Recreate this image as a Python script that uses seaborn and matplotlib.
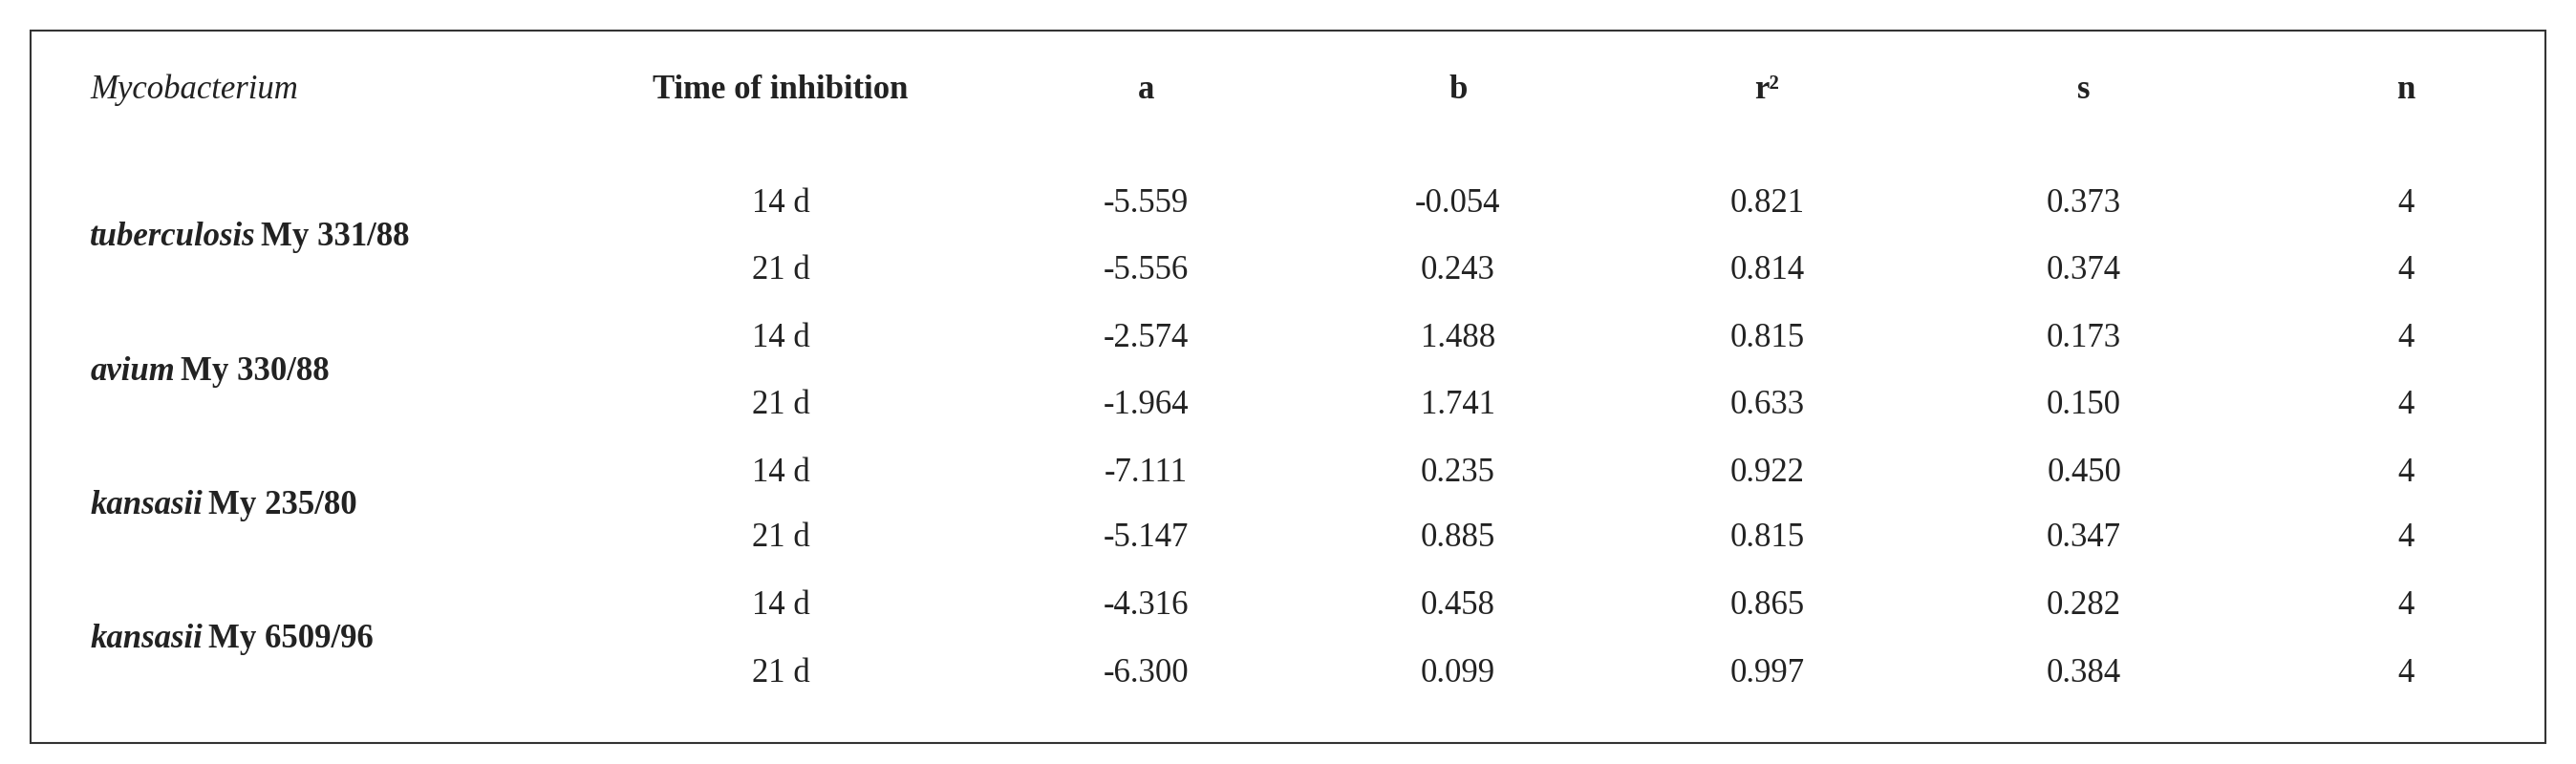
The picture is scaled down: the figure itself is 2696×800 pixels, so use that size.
import matplotlib
matplotlib.use('Agg')
import matplotlib.pyplot as plt
from matplotlib.patches import Rectangle
import seaborn as sns

# --- DATA ---
species = ["tuberculosis", "avium", "kansasii", "kansasii"]
strains = ["My 331/88", "My 330/88", "My 235/80", "My 6509/96"]
times = ["14 d", "21 d"]
a_vals = ["-5.559", "-5.556", "-2.574", "-1.964", "-7.111", "-5.147", "-4.316", "-6.300"]
b_vals = ["-0.054", "0.243", "1.488", "1.741", "0.235", "0.885", "0.458", "0.099"]
r2_vals = ["0.821", "0.814", "0.815", "0.633", "0.922", "0.815", "0.865", "0.997"]
s_vals = ["0.373", "0.374", "0.173", "0.150", "0.450", "0.347", "0.282", "0.384"]
n_vals = ["4"] * 8
headers = ["Time of inhibition", "a", "b", "r²", "s", "n"]

sns.set_theme(style="white")
plt.rcParams['font.family'] = ['Liberation Serif', 'DejaVu Serif']

fig = plt.figure(figsize=(26.96, 8), dpi=100)
ax = fig.add_axes([0, 0, 1, 1])
ax.set_xlim(0, 1)
ax.set_ylim(1, 0)
ax.axis('off')

ax.add_patch(Rectangle((0.012, 0.04), 0.976, 0.932, fill=False, edgecolor='#333333', linewidth=1.5))

txt = '#222222'
fs = 25
col_x = [0.303, 0.445, 0.566, 0.686, 0.809, 0.934]
head_y = 0.118
row_y = [0.267, 0.355, 0.443, 0.531, 0.619, 0.705, 0.793, 0.882]

ax.text(0.035, head_y, "Mycobacterium", style='italic', fontsize=fs, color=txt, va='center', ha='left')
for x, h in zip(col_x, headers):
    ax.text(x, head_y, h, fontweight='bold', fontsize=fs, color=txt, va='center', ha='center')

for i, (sp, st) in enumerate(zip(species, strains)):
    y = (row_y[2 * i] + row_y[2 * i + 1]) / 2
    t = ax.text(0.035, y, sp, style='italic', fontweight='bold', fontsize=fs, color=txt, va='center', ha='left')
    fig.canvas.draw()
    bb = t.get_window_extent().transformed(ax.transData.inverted())
    ax.text(bb.x1 + 0.002, y, st, fontweight='bold', fontsize=fs, color=txt, va='center', ha='left')

cols = [times * 4, a_vals, b_vals, r2_vals, s_vals, n_vals]
for x, vals in zip(col_x, cols):
    for y, v in zip(row_y, vals):
        ax.text(x, y, v, fontsize=fs, color=txt, va='center', ha='center')

fig.savefig("out.png", dpi=100)
